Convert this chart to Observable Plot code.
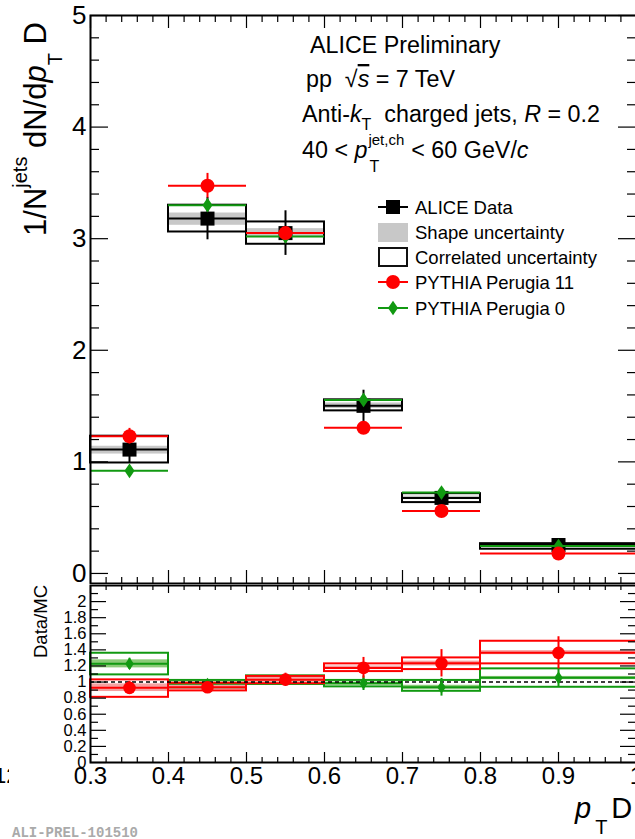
<!DOCTYPE html>
<html>
<head>
<meta charset="utf-8">
<script src="https://cdn.jsdelivr.net/npm/d3@7"></script>
<script src="https://cdn.jsdelivr.net/npm/@observablehq/plot@0.6"></script>
<style>
  html, body { margin: 0; padding: 0; background: #fff; overflow: hidden; }
  #chart { position: relative; width: 640px; height: 839px; overflow: hidden; }
  #chart svg { display: block; max-width: none; }
</style>
</head>
<body>
<div id="chart"></div>
<script>
// p_T D bins
const binLo  = [0.3, 0.4, 0.5, 0.6, 0.7, 0.8];
const binHi  = [0.4, 0.5, 0.6, 0.7, 0.8, 1.0];
const binMid = [0.35, 0.45, 0.55, 0.65, 0.75, 0.9];

// ALICE data, 1/N dN/d(p_T D)
const dataVal  = [1.11, 3.18, 3.05, 1.502, 0.677, 0.255];
const dataStat = [0.12, 0.19, 0.20, 0.14, 0.05, 0.02];
const shapeLo  = [1.07, 3.12, 3.01, 1.478, 0.662, 0.243];
const shapeHi  = [1.14, 3.23, 3.09, 1.528, 0.694, 0.262];
const corrLo   = [0.99, 3.06, 2.95, 1.457, 0.635, 0.217];
const corrHi   = [1.23, 3.30, 3.15, 1.556, 0.715, 0.267];

// PYTHIA Perugia 11 and Perugia 0
const p11Val = [1.23, 3.475, 3.05, 1.305, 0.56, 0.178];
const p11Err = [0.07, 0.11, 0.05, 0.03, 0.02, 0.01];
const p0Val  = [0.92, 3.30, 3.02, 1.555, 0.725, 0.245];
const p0Err  = [0.03, 0.05, 0.04, 0.04, 0.02, 0.01];

// Data/MC ratios
const r11Val     = [0.928, 0.935, 1.03, 1.176, 1.233, 1.363];
const r11Err     = [0.08, 0.07, 0.08, 0.13, 0.17, 0.20];
const r11ShapeLo = [0.882, 0.91, 1.00, 1.16, 1.20, 1.34];
const r11ShapeHi = [0.977, 0.96, 1.06, 1.20, 1.26, 1.39];
const r11CorrLo  = [0.81, 0.89, 0.98, 1.13, 1.155, 1.226];
const r11CorrHi  = [1.027, 0.985, 1.07, 1.226, 1.30, 1.507];

const r0Val     = [1.226, 0.975, 1.03, 0.985, 0.935, 1.052];
const r0Err     = [0.07, 0.05, 0.06, 0.09, 0.11, 0.11];
const r0ShapeLo = [1.176, 0.95, 1.00, 0.96, 0.91, 1.03];
const r0ShapeHi = [1.276, 1.00, 1.06, 1.00, 0.96, 1.07];
const r0CorrLo  = [1.089, 0.92, 0.97, 0.94, 0.885, 0.935];
const r0CorrHi  = [1.358, 1.02, 1.077, 1.02, 1.02, 1.164];

// axis ticks
const xTicks      = [0.3, 0.4, 0.5, 0.6, 0.7, 0.8, 0.9, 1.0];
const topYTicks   = [0, 1, 2, 3, 4, 5];
const ratioYTicks = [0, 0.2, 0.4, 0.6, 0.8, 1, 1.2, 1.4, 1.6, 1.8, 2];

const bins = binLo.map((lo, i) => ({
  lo, hi: binHi[i], mid: binMid[i],
  data: dataVal[i], stat: dataStat[i],
  sLo: shapeLo[i], sHi: shapeHi[i], cLo: corrLo[i], cHi: corrHi[i],
  p11: p11Val[i], p11e: p11Err[i], p0: p0Val[i], p0e: p0Err[i],
  r11: r11Val[i], r11e: r11Err[i], r11sLo: r11ShapeLo[i], r11sHi: r11ShapeHi[i], r11cLo: r11CorrLo[i], r11cHi: r11CorrHi[i],
  r0: r0Val[i], r0e: r0Err[i], r0sLo: r0ShapeLo[i], r0sHi: r0ShapeHi[i], r0cLo: r0CorrLo[i], r0cHi: r0CorrHi[i]
}));

const RED = "#ff0000", GREEN = "#119911", GRAY = "#c8c8c8";
const LRED = "#f5a0a0", LGREEN = "#8ccb78";
const FONT = "'Liberation Sans', Arial, Helvetica, sans-serif";
const fmt = d3.format("~g");

// elongated diamond marker
const diamondTall = {
  draw(context, size) {
    const r = Math.sqrt(size / Math.PI);
    const w = r * 0.72, h = r * 1.05;
    context.moveTo(0, -h); context.lineTo(w, 0); context.lineTo(0, h); context.lineTo(-w, 0); context.closePath();
  }
};

// minor tick positions
const xMinor = d3.range(15, 51).map(i => i / 50).filter(v => Math.abs(v * 10 - Math.round(v * 10)) > 1e-6);
const topYMinor = d3.range(0, 26).map(i => i / 5).filter(v => Math.abs(v - Math.round(v)) > 1e-6);
const ratioYMinor = d3.range(1, 22, 2).map(i => i / 10);

const W = 640, ML = 90, MR = 4;
const innerW = W - ML - MR;

// inward-pointing ticks along the frame edges
function ticksX(values, len, side, inner) {
  const o = {x: d => d, stroke: "black", strokeWidth: 1.2};
  o[side === "top" ? "insetBottom" : "insetTop"] = inner - len;
  return Plot.tickX(values, o);
}
function ticksY(values, len, side) {
  const o = {y: d => d, stroke: "black", strokeWidth: 1.2};
  o[side === "left" ? "insetRight" : "insetLeft"] = innerW - len;
  return Plot.tickY(values, o);
}

// ---------- upper panel ----------
const topH = 584, topMT = 15, topMB = 1, topInner = topH - topMT - topMB;
const upperPanel = Plot.plot({
  width: W, height: topH, marginLeft: ML, marginRight: MR, marginTop: topMT, marginBottom: topMB,
  style: {fontFamily: FONT, background: "white", maxWidth: "none", color: "black"},
  x: {domain: [0.3, 1.0], axis: null},
  y: {domain: [-0.09, 5], axis: null},
  marks: [
    Plot.rect(bins, {x1: "lo", x2: "hi", y1: "cLo", y2: "cHi", fill: "white"}),
    Plot.rect(bins, {x1: "lo", x2: "hi", y1: "sLo", y2: "sHi", fill: GRAY}),
    Plot.ruleY(bins, {x1: "lo", x2: "hi", y: "data", stroke: "black", strokeWidth: 2}),
    Plot.rect(bins, {x1: "lo", x2: "hi", y1: "cLo", y2: "cHi", fill: "none", stroke: "black", strokeWidth: 2}),
    Plot.ruleX(bins, {x: "mid", y1: d => d.data - d.stat, y2: d => d.data + d.stat, stroke: "black", strokeWidth: 2}),
    Plot.dot(bins, {x: "mid", y: "data", symbol: "square", r: 7.9, fill: "black"}),
    Plot.ruleY(bins, {x1: "lo", x2: "hi", y: "p0", stroke: GREEN, strokeWidth: 2}),
    Plot.ruleX(bins, {x: "mid", y1: d => d.p0 - d.p0e, y2: d => d.p0 + d.p0e, stroke: GREEN, strokeWidth: 2}),
    Plot.dot(bins, {x: "mid", y: "p0", symbol: diamondTall, r: 7, fill: GREEN}),
    Plot.ruleY(bins, {x1: "lo", x2: "hi", y: "p11", stroke: RED, strokeWidth: 2}),
    Plot.ruleX(bins, {x: "mid", y1: d => d.p11 - d.p11e, y2: d => d.p11 + d.p11e, stroke: RED, strokeWidth: 2}),
    Plot.dot(bins, {x: "mid", y: "p11", r: 7, fill: RED}),
    ticksX(xTicks, 13, "top", topInner), ticksX(xMinor, 7, "top", topInner),
    ticksX(xTicks, 13, "bottom", topInner), ticksX(xMinor, 6, "bottom", topInner),
    ticksY(topYTicks, 18, "left"), ticksY(topYMinor, 9, "left"),
    ticksY(topYTicks, 18, "right"), ticksY(topYMinor, 9, "right"),
    Plot.axisY({ticks: topYTicks, tickSize: 0, tickPadding: 4, fontSize: 26, tickFormat: fmt, label: null}),
    Plot.frame({stroke: "black", strokeWidth: 2})
  ]
});

// ---------- ratio panel ----------
const botH = 255, botMT = 1, botMB = 77, botInner = botH - botMT - botMB;
const ratioPanel = Plot.plot({
  width: W, height: botH, marginLeft: ML, marginRight: MR, marginTop: botMT, marginBottom: botMB,
  style: {fontFamily: FONT, background: "white", maxWidth: "none", color: "black", overflow: "visible"},
  x: {domain: [0.3, 1.0], axis: null},
  y: {domain: [0, 2.2], axis: null},
  marks: [
    Plot.rect(bins, {x1: "lo", x2: "hi", y1: "r0sLo", y2: "r0sHi", fill: LGREEN}),
    Plot.ruleY(bins, {x1: "lo", x2: "hi", y: "r0", stroke: GREEN, strokeWidth: 2}),
    Plot.rect(bins, {x1: "lo", x2: "hi", y1: "r0cLo", y2: "r0cHi", fill: "none", stroke: GREEN, strokeWidth: 2}),
    Plot.rect(bins, {x1: "lo", x2: "hi", y1: "r11sLo", y2: "r11sHi", fill: LRED}),
    Plot.ruleY(bins, {x1: "lo", x2: "hi", y: "r11", stroke: RED, strokeWidth: 2}),
    Plot.rect(bins, {x1: "lo", x2: "hi", y1: "r11cLo", y2: "r11cHi", fill: "none", stroke: RED, strokeWidth: 2}),
    Plot.ruleY([1], {stroke: "black", strokeWidth: 1.5, strokeDasharray: "4,3"}),
    Plot.ruleX(bins, {x: "mid", y1: d => d.r0 - d.r0e, y2: d => d.r0 + d.r0e, stroke: GREEN, strokeWidth: 2}),
    Plot.dot(bins, {x: "mid", y: "r0", symbol: diamondTall, r: 6, fill: GREEN}),
    Plot.ruleX(bins, {x: "mid", y1: d => d.r11 - d.r11e, y2: d => d.r11 + d.r11e, stroke: RED, strokeWidth: 2}),
    Plot.dot(bins, {x: "mid", y: "r11", r: 6.3, fill: RED}),
    ticksX(xTicks, 8, "top", botInner), ticksX(xMinor, 5, "top", botInner),
    ticksX(xTicks, 10, "bottom", botInner), ticksX(xMinor, 5, "bottom", botInner),
    ticksY(ratioYTicks, 16, "left"), ticksY(ratioYMinor, 8, "left"),
    ticksY(ratioYTicks, 16, "right"), ticksY(ratioYMinor, 8, "right"),
    Plot.axisY({ticks: ratioYTicks, tickSize: 0, tickPadding: 4, fontSize: 16.5, tickFormat: fmt, label: null}),
    Plot.axisX({ticks: xTicks, tickSize: 0, tickPadding: 4, fontSize: 24, tickFormat: fmt, label: null}),
    Plot.frame({stroke: "black", strokeWidth: 2})
  ]
});

const chart = document.getElementById("chart");
chart.append(upperPanel, ratioPanel);

// ---------- titles, annotations, legend ----------
const st = d3.select(upperPanel);
const sb = d3.select(ratioPanel);

function addText(sel, x, y, size, parts, opts = {}) {
  const t = sel.append("text").attr("x", x).attr("y", y)
    .attr("font-family", FONT).attr("font-size", size).attr("fill", "black")
    .attr("text-anchor", opts.anchor || "start");
  if (opts.transform) t.attr("transform", opts.transform).attr("x", 0).attr("y", 0);
  for (const p of parts) {
    const s = t.append("tspan").text(p.t);
    if (p.size) s.attr("font-size", p.size);
    if (p.dy) s.attr("dy", p.dy);
    if (p.dx) s.attr("dx", p.dx);
    if (p.italic) s.attr("font-style", "italic");
    if (p.deco) s.attr("text-decoration", p.deco);
  }
  return t;
}

// y-axis title of upper panel
addText(st, 0, 0, 31, [
  {t: "1/N"}, {t: "jets", size: 20, dy: -19}, {t: " dN/d", dy: 19},
  {t: "p", italic: true}, {t: "T", size: 20, dy: 16}, {t: " D", dy: -16}
], {transform: "translate(46,22) rotate(-90)", anchor: "end"});

// annotation block
const A = 23.3;
addText(st, 310, 53, A, [{t: "ALICE Preliminary"}]);
addText(st, 306, 87, A, [{t: "pp  √"}, {t: "s", italic: true, deco: "overline"}, {t: " = 7 TeV"}]);
addText(st, 302, 122, A, [
  {t: "Anti-"}, {t: "k", italic: true}, {t: "T", size: 16, dy: 8},
  {t: "  charged jets, ", dy: -8}, {t: "R", italic: true}, {t: " = 0.2"}
]);
{
  const a = addText(st, 302, 158, A, [{t: "40 < "}, {t: "p", italic: true}]);
  const xe = 302 + a.node().getComputedTextLength() + 1;
  const sup = addText(st, xe, 145, 15, [{t: "jet,ch"}]);
  addText(st, xe + 1, 172, 16, [{t: "T"}]);
  const xr = xe + sup.node().getComputedTextLength() + 7;
  addText(st, xr, 158, A, [{t: "< 60 GeV/"}, {t: "c", italic: true}]);
}

// legend
const L = 18.5, lx0 = 378, lx1 = 408, lxc = 393, ltx = 415;
const rows = [207, 232, 257, 282, 308];
const lg = st.append("g");
lg.append("line").attr("x1", lx0).attr("x2", lx1).attr("y1", rows[0]).attr("y2", rows[0]).attr("stroke", "black").attr("stroke-width", 2);
lg.append("rect").attr("x", lxc - 7).attr("y", rows[0] - 7).attr("width", 14).attr("height", 14).attr("fill", "black");
lg.append("rect").attr("x", lx0).attr("y", rows[1] - 9).attr("width", lx1 - lx0).attr("height", 19).attr("fill", GRAY);
lg.append("rect").attr("x", lx0 + 1).attr("y", rows[2] - 9).attr("width", lx1 - lx0 - 2).attr("height", 18).attr("fill", "white").attr("stroke", "#111").attr("stroke-width", 2);
lg.append("line").attr("x1", lx0).attr("x2", lx1).attr("y1", rows[3]).attr("y2", rows[3]).attr("stroke", RED).attr("stroke-width", 2);
lg.append("circle").attr("cx", lxc).attr("cy", rows[3]).attr("r", 7).attr("fill", RED);
lg.append("line").attr("x1", lx0).attr("x2", lx1).attr("y1", rows[4]).attr("y2", rows[4]).attr("stroke", GREEN).attr("stroke-width", 2);
lg.append("path").attr("d", d3.symbol(diamondTall, 49 * Math.PI)()).attr("transform", `translate(${lxc},${rows[4]})`).attr("fill", GREEN);
const legendLabels = ["ALICE Data", "Shape uncertainty", "Correlated uncertainty", "PYTHIA Perugia 11", "PYTHIA Perugia 0"];
legendLabels.forEach((s, i) => addText(lg, ltx, rows[i] + 6.5, L, [{t: s}]));

// ratio panel titles
addText(sb, 0, 0, 18.5, [{t: "Data/MC"}], {transform: "translate(47,1) rotate(-90)", anchor: "end"});
addText(sb, 575, 234, 29, [{t: "p", italic: true}, {t: "T", size: 20, dy: 16, dx: 4}, {t: "D", dy: -16, dx: 4}]);

// label fragment at the left edge, trimmed by a clip region
sb.append("clipPath").attr("id", "edge-clip").append("rect").attr("x", 0).attr("y", 170).attr("width", 9).attr("height", 40);
addText(sb, -6, 199, 22, [{t: "12"}]).attr("clip-path", "url(#edge-clip)");

sb.append("text").attr("x", 12).attr("y", 253).attr("text-anchor", "start")
  .attr("font-family", "'Liberation Mono', 'DejaVu Sans Mono', monospace")
  .attr("font-weight", "bold").attr("font-size", 14).attr("fill", "#aaaaaa").text("ALI-PREL-101510");
</script>
</body>
</html>
